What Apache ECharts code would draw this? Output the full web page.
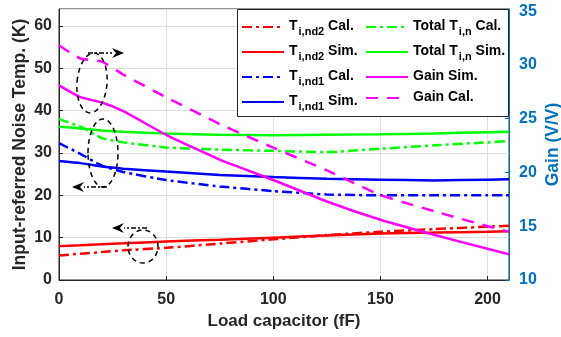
<!DOCTYPE html>
<html>
<head>
<meta charset="utf-8">
<script src="https://cdn.jsdelivr.net/npm/echarts@6.0.0/dist/echarts.min.js"></script>
<style>
  html, body { margin: 0; padding: 0; background: #fff; }
  #chart { width: 561px; height: 337px; }
</style>
</head>
<body>
<div id="chart"></div>
<script>
// load capacitor (fF)
const caps = [0, 10, 20, 30, 50, 75, 100, 125, 150, 175, 200, 210];

// noise temperatures (K)
const nd2Cal = [5.8, 6.2, 6.6, 7.0, 7.6, 8.6, 9.6, 10.6, 11.4, 12.0, 12.6, 12.8];
const nd2Sim = [8.0, 8.2, 8.45, 8.65, 9.1, 9.5, 10.0, 10.5, 11.0, 11.2, 11.4, 11.5];
const nd1Cal = [32.3, 29.8, 27.0, 25.5, 23.6, 22.1, 21.0, 20.2, 20.0, 20.0, 20.0, 20.0];
const nd1Sim = [28.1, 27.6, 26.8, 26.3, 25.6, 24.8, 24.3, 23.9, 23.7, 23.5, 23.7, 23.8];
const totalCal = [38.0, 36.2, 33.5, 32.5, 31.3, 30.8, 30.5, 30.2, 31.0, 31.8, 32.5, 32.8];
const totalSim = [36.2, 35.8, 35.3, 35.0, 34.6, 34.3, 34.2, 34.3, 34.4, 34.6, 34.9, 35.0];

// gain (V/V)
const gainSim = [28.1, 27.0, 26.5, 25.7, 23.5, 21.2, 19.3, 17.3, 15.6, 14.2, 12.9, 12.4];
const gainCal = [31.8, 30.6, 30.3, 29.1, 27.0, 24.5, 22.3, 20.2, 17.9, 16.4, 15.0, 14.5];

const FONT = 'Liberation Sans, Arial, sans-serif';
const AXIS_COLOR = '#262626';
const GAIN_COLOR = '#0072BD';

const pairs = ys => caps.map((c, i) => [c, ys[i]]);

// legend labels with subscripts
const legendText = {
    'nd2Cal': '{t|T}{s|i,nd2}{t| Cal.}',
    'nd2Sim': '{t|T}{s|i,nd2}{t| Sim.}',
    'nd1Cal': '{t|T}{s|i,nd1}{t| Cal.}',
    'nd1Sim': '{t|T}{s|i,nd1}{t| Sim.}',
    'totalCal': '{t|Total T}{s|i,n}{t| Cal.}',
    'totalSim': '{t|Total T}{s|i,n}{t| Sim.}',
    'gainSim': '{t|Gain Sim.}',
    'gainCal': '{t|Gain Cal.}'
};

function line(name, data, color, dash, yIdx) {
    return {
        name: name,
        type: 'line',
        data: pairs(data),
        yAxisIndex: yIdx || 0,
        symbol: 'none',
        smooth: 0.15,
        lineStyle: { color: color, width: 2.5, type: dash || 'solid' },
        itemStyle: { color: color },
        z: 2
    };
}

const dashDot = [10, 4, 3, 4];

const legendCommon = {
    orient: 'vertical',
    itemWidth: 42,
    itemHeight: 14,
    itemGap: 7,
    padding: 0,
    selectedMode: false,
    itemStyle: { opacity: 0 },   // hide the default circle symbol, keep the line
    formatter: n => legendText[n],
    textStyle: {
        color: '#000',
        fontFamily: FONT,
        rich: {
            t: { fontSize: 14, fontWeight: 'bold', fontFamily: FONT, color: '#000', verticalAlign: 'top', lineHeight: 16 },
            s: { fontSize: 11, fontWeight: 'bold', fontFamily: FONT, color: '#000', verticalAlign: 'top', lineHeight: 16, padding: [7, 0, 0, 1] }
        }
    }
};

// annotation helpers (dashed ellipses + dash-dot arrows)
function ellipse(cx, cy, rx, ry, rot) {
    return {
        type: 'ellipse', z: 5, rotation: rot || 0, x: cx, y: cy,
        shape: { cx: 0, cy: 0, rx: rx, ry: ry },
        style: { fill: 'none', stroke: '#000', lineWidth: 1.5, lineDash: [5, 4] }
    };
}
function arrow(x1, x2, y) {
    const dir = x2 > x1 ? 1 : -1;
    const base = x2 - dir * 12;
    return [{
        type: 'polyline', z: 5,
        shape: { points: [[x1, y], [base, y]] },
        style: { stroke: '#000', lineWidth: 1.5, lineDash: [5, 2, 2, 2] }
    }, {
        type: 'polygon', z: 5,
        shape: { points: [[x2, y], [base, y - 5], [base + dir * 4, y], [base, y + 5]] },
        style: { fill: '#000' }
    }];
}

const chart = echarts.init(document.getElementById('chart'));
chart.setOption({
    animation: false,
    grid: {
        left: 59, right: 52, top: 9, bottom: 57,
        outerBoundsMode: 'none',
        show: true, borderColor: AXIS_COLOR, borderWidth: 1, backgroundColor: 'transparent'
    },
    xAxis: {
        type: 'value', min: 0, max: 210, interval: 50,
        name: 'Load capacitor (fF)', nameLocation: 'middle', nameGap: 33, nameMoveOverlap: false,
        nameTextStyle: { fontFamily: FONT, fontWeight: 'bold', fontSize: 17, color: AXIS_COLOR },
        axisLine: { lineStyle: { color: AXIS_COLOR, width: 1 } },
        axisTick: { inside: true, length: 4, lineStyle: { color: AXIS_COLOR } },
        axisLabel: { showMaxLabel: false, margin: 12, fontFamily: FONT, fontWeight: 'bold', fontSize: 16, color: AXIS_COLOR },
        splitLine: { show: true, lineStyle: { color: '#dfdfdf', width: 1 } }
    },
    yAxis: [{
        type: 'value', min: 0, max: 64, interval: 10,
        name: 'Input-referred Noise Temp. (K)', nameLocation: 'middle', nameGap: 30, nameMoveOverlap: false,
        nameTextStyle: { fontFamily: FONT, fontWeight: 'bold', fontSize: 17.5, color: AXIS_COLOR },
        axisLine: { show: true, lineStyle: { color: AXIS_COLOR, width: 1 } },
        axisTick: { show: true, inside: true, length: 4, lineStyle: { color: AXIS_COLOR } },
        axisLabel: { showMaxLabel: false, margin: 7, fontFamily: FONT, fontWeight: 'bold', fontSize: 16, color: AXIS_COLOR },
        splitLine: { show: true, lineStyle: { color: '#dfdfdf', width: 1 } }
    }, {
        type: 'value', min: 10, max: 35.2, interval: 5, position: 'right',
        name: 'Gain (V/V)', nameLocation: 'middle', nameGap: 35, nameMoveOverlap: false,
        nameTextStyle: { fontFamily: FONT, fontWeight: 'bold', fontSize: 17.5, color: GAIN_COLOR },
        axisLine: { show: true, lineStyle: { color: GAIN_COLOR, width: 1 } },
        axisTick: { show: true, inside: true, length: 4, lineStyle: { color: GAIN_COLOR } },
        axisLabel: { showMaxLabel: false, margin: 10, fontFamily: FONT, fontWeight: 'bold', fontSize: 16, color: GAIN_COLOR },
        splitLine: { show: false }
    }],
    legend: [
        Object.assign({}, legendCommon, { left: 241, top: 19, data: ['nd2Cal', 'nd2Sim', 'nd1Cal', 'nd1Sim'] }),
        Object.assign({}, legendCommon, { left: 365, top: 19, data: ['totalCal', 'totalSim', 'gainSim', 'gainCal'] })
    ],
    graphic: [
        { type: 'rect', z: 3, shape: { x: 237.5, y: 9.5, width: 271, height: 107 }, style: { fill: '#fff', stroke: AXIS_COLOR, lineWidth: 1 } },
        ellipse(92, 83, 15, 30, -0.08),
        ellipse(103, 153, 15, 34, 0),
        ellipse(143, 246.5, 15, 16.5, 0)
    ].concat(arrow(88, 124, 53), arrow(107, 72, 187), arrow(147, 112, 228)),
    series: [
        line('nd2Cal', nd2Cal, '#FF0000', dashDot),
        line('nd2Sim', nd2Sim, '#FF0000'),
        line('nd1Cal', nd1Cal, '#0000FF', dashDot),
        line('nd1Sim', nd1Sim, '#0000FF'),
        line('totalCal', totalCal, '#00FF00', dashDot),
        line('totalSim', totalSim, '#00FF00'),
        line('gainSim', gainSim, '#FF00FF', null, 1),
        line('gainCal', gainCal, '#FF00FF', [12, 9], 1)
    ]
});
</script>
</body>
</html>
